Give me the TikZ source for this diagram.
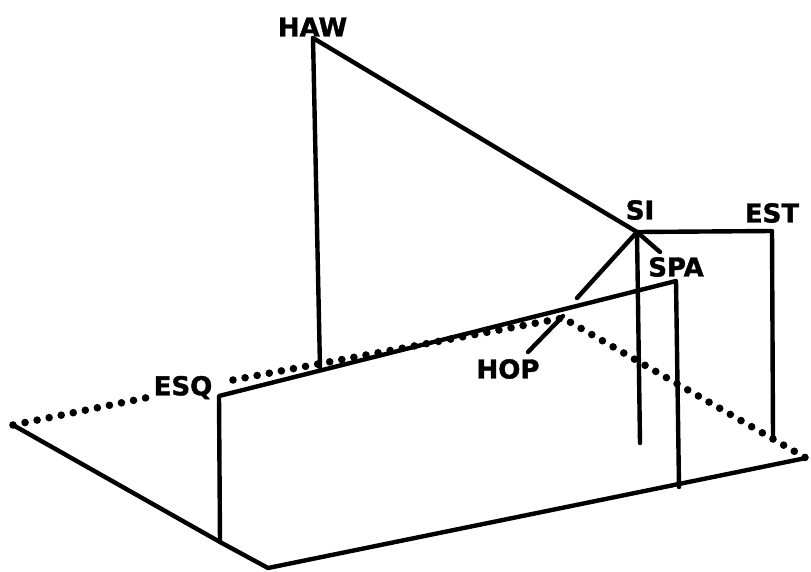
\documentclass[tikz,border=0pt]{standalone}
\usepackage{fontspec}
\setmainfont{Liberation Sans}
\newfontfamily\lblfont[BoldFeatures={FakeBold=1.5}]{DejaVu Sans}
\begin{document}
\begin{tikzpicture}[x=1pt,y=-1pt,
  solidline/.style={line width=4.4pt,line cap=round,line join=round},
  dotline/.style={line width=7.6pt,line cap=round,dash pattern=on 0pt off 12.3pt},
  lbl/.style={font=\lblfont\fontsize{26}{26}\selectfont\bfseries,inner sep=0pt,anchor=center}]
\useasboundingbox (0,0) rectangle (811,571);
\coordinate (haw) at (313,38);
\coordinate (hawb) at (320,368);
\coordinate (si) at (637,232);
\coordinate (est) at (772,231);
\coordinate (estb) at (773,436);
\coordinate (sib) at (640,443);
\coordinate (hopt) at (577,298);
\coordinate (spas) at (660,252);
\coordinate (esq) at (219,396);
\coordinate (esqb) at (220,542);
\coordinate (spa) at (676,281);
\coordinate (spab) at (679,487);
\coordinate (left) at (13,425);
\coordinate (front) at (268,568);
\coordinate (right) at (806,458);
\coordinate (hopa) at (528,352);
\coordinate (hopb) at (563,316);
\coordinate (d1) at (150,397);
\coordinate (d2) at (233,380);
\coordinate (dm) at (563,318);
\node[lbl] (nhaw) at (312.5,27) {HAW};
\node[lbl] (nsi) at (640,210) {SI};
\node[lbl] (nest) at (772,213) {EST};
\node[lbl] (nspa) at (676,267) {SPA};
\node[lbl] (nhop) at (508,369) {HOP};
\node[lbl] (nesq) at (183,387.5) {ESQ};
\draw[solidline] (haw) -- (hawb);
\draw[solidline] (haw) -- (si) -- (est) -- (estb);
\draw[solidline] (si) -- (sib);
\draw[solidline] (si) -- (hopt);
\draw[solidline] (si) -- (spas);
\draw[solidline] (esqb) -- (esq) -- (spa) -- (spab);
\draw[solidline] (left) -- (esqb) -- (front) -- (right);
\draw[solidline] (hopa) -- (hopb);
\draw[dotline] (left) -- (d1);
\draw[dotline] (d2) -- (dm) -- (right);
\end{tikzpicture}
\end{document}
